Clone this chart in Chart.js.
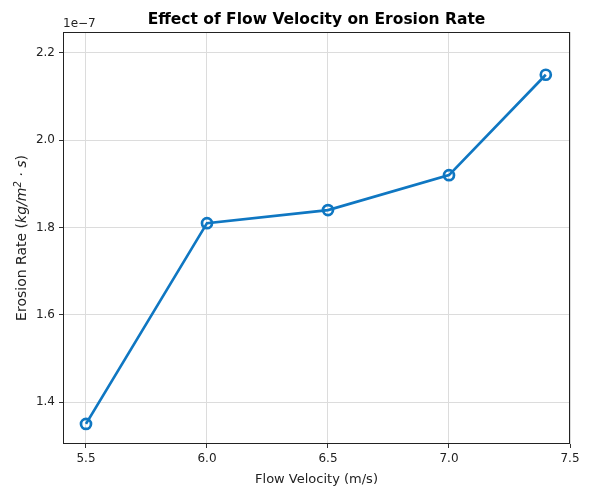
<!DOCTYPE html>
<html>
<head>
<meta charset="utf-8">
<script src="https://cdn.jsdelivr.net/npm/chart.js@4"></script>
<style>
  html, body { margin: 0; padding: 0; background: #fff; }
  #wrap { width: 589px; height: 487px; }
</style>
</head>
<body>
<div id="wrap"><canvas id="c" width="589" height="487"></canvas></div>
<script>
// data
var velocity = [5.5, 6.0, 6.5, 7.0, 7.4];
var erosion = [1.35e-7, 1.81e-7, 1.84e-7, 1.92e-7, 2.15e-7];
var xTicks = [5.5, 6.0, 6.5, 7.0, 7.5];
var yTicks = [1.4e-7, 1.6e-7, 1.8e-7, 2.0e-7, 2.2e-7];

var blue = '#0f77c2';
var font = "'DejaVu Sans', sans-serif";

var labels = {
  id: 'labels',
  afterDraw: function (chart) {
    var ctx = chart.ctx, a = chart.chartArea;
    ctx.save();
    // frame
    ctx.strokeStyle = '#222';
    ctx.lineWidth = 1;
    ctx.strokeRect(a.left + 0.5, a.top + 0.5, a.right - a.left - 1, a.bottom - a.top - 1);
    ctx.fillStyle = '#000';
    // title
    ctx.font = 'bold 15.5px ' + font;
    ctx.textAlign = 'center';
    ctx.textBaseline = 'alphabetic';
    ctx.fillText('Effect of Flow Velocity on Erosion Rate', (a.left + a.right) / 2, 24);
    // offset text
    ctx.fillStyle = '#222';
    ctx.font = '12px ' + font;
    ctx.textAlign = 'left';
    ctx.fillText('1e\u22127', a.left, 27);
    // x label
    ctx.font = '13px ' + font;
    ctx.textAlign = 'center';
    ctx.fillText('Flow Velocity (m/s)', (a.left + a.right) / 2, 483);
    // y label with italic part
    ctx.translate(26, (a.top + a.bottom) / 2);
    ctx.rotate(-Math.PI / 2);
    var parts = [
      ['14px ' + font, 'Erosion Rate ('],
      ['italic 14px ' + font, 'kg/m'],
      ['italic 10px ' + font, '2'],
      ['italic 14px ' + font, ' \u00b7 s'],
      ['14px ' + font, ')']
    ];
    var total = 0;
    parts.forEach(function (p) { ctx.font = p[0]; total += ctx.measureText(p[1]).width; });
    var x = -total / 2;
    ctx.textAlign = 'left';
    parts.forEach(function (p) {
      ctx.font = p[0];
      ctx.fillText(p[1], x, p[1] === '2' ? -5 : 0);
      x += ctx.measureText(p[1]).width;
    });
    ctx.restore();
  }
};

new Chart(document.getElementById('c').getContext('2d'), {
  type: 'line',
  data: {
    datasets: [{
      data: velocity.map(function (v, i) { return { x: v, y: erosion[i] }; }),
      borderColor: blue,
      borderWidth: 2.7,
      pointRadius: 5,
      pointBorderWidth: 2.7,
      pointBorderColor: blue,
      pointBackgroundColor: 'rgba(255,255,255,0)',
      tension: 0,
      fill: false
    }]
  },
  options: {
    responsive: false,
    animation: false,
    devicePixelRatio: 1,
    layout: { padding: { left: 0, top: 32, right: 19, bottom: 0 } },
    plugins: { legend: { display: false }, tooltip: { enabled: false } },
    scales: {
      x: {
        type: 'linear',
        min: 5.405,
        max: 7.5,
        afterFit: function (s) { s.height = 43; },
        afterBuildTicks: function (s) { s.ticks = xTicks.map(function (v) { return { value: v }; }); },
        grid: { color: '#dcdcdc', tickColor: '#333', tickLength: 4, drawTicks: true },
        border: { display: false },
        ticks: {
          color: '#222',
          font: { family: font, size: 12 },
          padding: 4,
          maxRotation: 0,
          callback: function (v) { return v.toFixed(1); }
        }
      },
      y: {
        type: 'linear',
        min: 1.304e-7,
        max: 2.248e-7,
        afterFit: function (s) { s.width = 63; },
        afterBuildTicks: function (s) { s.ticks = yTicks.map(function (v) { return { value: v }; }); },
        grid: { color: '#dcdcdc', tickColor: '#333', tickLength: 4, drawTicks: true },
        border: { display: false },
        ticks: {
          color: '#222',
          font: { family: font, size: 12 },
          padding: 4,
          callback: function (v) { return (v / 1e-7).toFixed(1); }
        }
      }
    }
  },
  plugins: [labels]
});
</script>
</body>
</html>
